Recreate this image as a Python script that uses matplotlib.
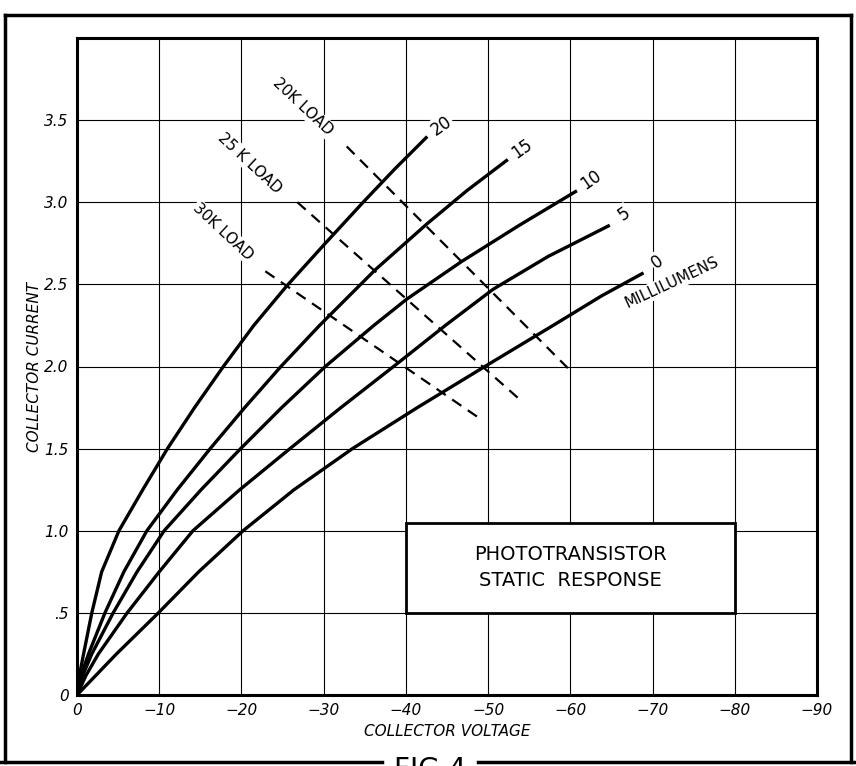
import matplotlib
matplotlib.use("Agg")
import matplotlib.pyplot as plt
from matplotlib.patches import Rectangle
from matplotlib.lines import Line2D

# ---- data ----
x_ticks = [0, -10, -20, -30, -40, -50, -60, -70, -80, -90]
x_tick_labels = ["0", "\u221210", "\u221220", "\u221230", "\u221240", "\u221250", "\u221260", "\u221270", "\u221280", "\u221290"]
y_ticks = [0, 0.5, 1.0, 1.5, 2.0, 2.5, 3.0, 3.5]
y_tick_labels = ["0", ".5", "1.0", "1.5", "2.0", "2.5", "3.0", "3.5"]

curve_labels = ["20", "15", "10", "5", "0"]
v20 = [0, -0.3, -0.8, -1.8, -3.0, -5.1, -8.0, -11.0, -14.3, -17.8, -21.5, -25.5, -30.2, -34.8, -38.6, -42.6]
i20 = [0, 0.12, 0.25, 0.5, 0.75, 1.0, 1.25, 1.5, 1.75, 2.0, 2.25, 2.49, 2.75, 3.0, 3.2, 3.4]
v15 = [0, -0.5, -1.4, -3.4, -5.7, -8.5, -12.2, -16.2, -20.4, -24.8, -29.5, -36.3, -42.6, -47.4, -52.4]
i15 = [0, 0.12, 0.25, 0.5, 0.75, 1.0, 1.25, 1.5, 1.75, 2.0, 2.25, 2.59, 2.87, 3.07, 3.26]
v10 = [0, -0.7, -1.8, -4.4, -7.3, -10.6, -15.1, -19.9, -24.9, -30.2, -36.1, -40.1, -46.8, -53.8, -60.8]
i10 = [0, 0.12, 0.25, 0.5, 0.75, 1.0, 1.25, 1.5, 1.75, 2.0, 2.25, 2.41, 2.64, 2.86, 3.07]
v5 = [0, -1.1, -2.6, -6.1, -10.0, -14.1, -19.8, -25.9, -32.1, -38.5, -44.8, -50.6, -57.3, -64.8]
i5 = [0, 0.12, 0.25, 0.5, 0.75, 1.0, 1.25, 1.5, 1.75, 2.0, 2.25, 2.47, 2.67, 2.86]
v0 = [0, -4.8, -9.9, -14.8, -20.2, -26.4, -33.5, -41.4, -49.6, -57.9, -63.8, -68.9]
i0 = [0, 0.25, 0.5, 0.75, 1.0, 1.25, 1.5, 1.75, 2.0, 2.25, 2.43, 2.57]

load_labels = ["20K LOAD", "25 K LOAD", "30K LOAD"]
load20_v = [-32.8, -59.7]
load20_i = [3.34, 1.99]
load25_v = [-26.8, -53.6]
load25_i = [3.00, 1.81]
load30_v = [-22.9, -48.8]
load30_i = [2.58, 1.69]

title_lines = ["PHOTOTRANSISTOR", "STATIC  RESPONSE"]

# ---- figure ----
W, H = 856, 766
fig = plt.figure(figsize=(W / 100, H / 100), dpi=100)
fig.patch.set_facecolor("white")

ax = fig.add_axes([77 / W, 1 - 695 / H, (817 - 77) / W, (695 - 38) / H])
ax.set_xlim(0, -90)
ax.set_ylim(0, 4.0)

ax.set_xticks(x_ticks)
ax.set_xticklabels(x_tick_labels, fontstyle="italic", fontsize=11)
ax.set_yticks(y_ticks)
ax.set_yticklabels(y_tick_labels, fontstyle="italic", fontsize=11)
ax.tick_params(length=0, pad=6)
ax.grid(True, color="black", linewidth=0.8)
ax.set_axisbelow(True)
for s in ax.spines.values():
    s.set_linewidth(2.2)

ax.set_xlabel("COLLECTOR VOLTAGE", fontstyle="italic", fontsize=11, labelpad=4)
ax.set_ylabel("COLLECTOR CURRENT", fontstyle="italic", fontsize=11, labelpad=2)

curves = [(v20, i20), (v15, i15), (v10, i10), (v5, i5), (v0, i0)]
for (v, i), lab in zip(curves, curve_labels):
    ax.plot(v, i, color="black", linewidth=2.4, solid_capstyle="butt",
            solid_joinstyle="round", zorder=3)
    ax.annotate(lab, (v[-1], i[-1]), xytext=(10, 8), textcoords="offset points",
                rotation=35, fontsize=12, ha="center", va="center",
                bbox=dict(facecolor="white", edgecolor="none", pad=1), zorder=4)

ax.text(-72.3, 2.51, "MILLILUMENS", rotation=25, fontsize=11, ha="center", va="center",
        bbox=dict(facecolor="white", edgecolor="none", pad=1), zorder=4)

loads = [(load20_v, load20_i), (load25_v, load25_i), (load30_v, load30_i)]
for (v, i) in loads:
    ax.plot(v, i, color="black", linewidth=1.6, linestyle=(0, (5, 3.5)), zorder=3)

label_pos = [(-27.5, 3.58), (-21.0, 3.24), (-17.8, 2.82)]
for (x, y), lab in zip(label_pos, load_labels):
    ax.text(x, y, lab, rotation=-43, fontsize=11, ha="center", va="center",
            rotation_mode="anchor",
            bbox=dict(facecolor="white", edgecolor="none", pad=1), zorder=4)

ax.add_patch(Rectangle((-40, 0.5), -40, 0.55, facecolor="white", edgecolor="black",
                       linewidth=2.0, zorder=5))
ax.text(-60, 0.775, "\n".join(title_lines), fontsize=14, ha="center", va="center",
        linespacing=1.5, zorder=6)

# outer frame
def fline(x0, y0, x1, y1, lw=2.5):
    fig.add_artist(Line2D([x0 / W, x1 / W], [1 - y0 / H, 1 - y1 / H], color="black",
                          linewidth=lw, transform=fig.transFigure))

fline(5, 15, 851, 15)
fline(5, 15, 5, 762)
fline(851, 15, 851, 762)
fline(0, 762, 382, 762)
fline(478, 762, 856, 762)
fig.text(430 / W, 1 - 770 / H, "FIG 4", fontsize=20, ha="center", va="center")

fig.savefig("out.png", dpi=100)
